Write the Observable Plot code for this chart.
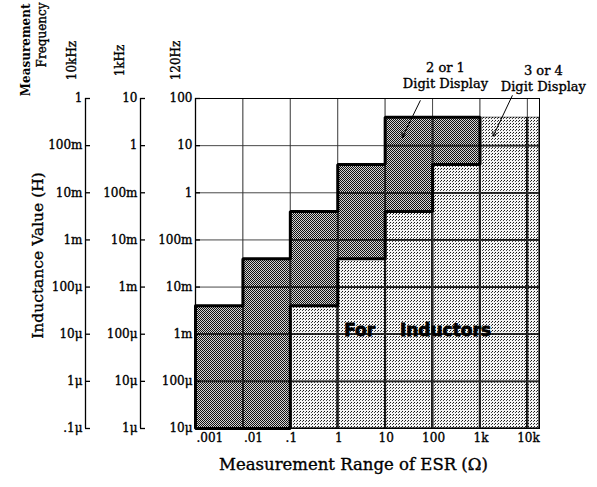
<!DOCTYPE html>
<html>
<head>
<meta charset="utf-8">
<script src="https://cdn.jsdelivr.net/npm/d3@7"></script>
<script src="https://cdn.jsdelivr.net/npm/@observablehq/plot@0.6"></script>
<style>
  html, body { margin: 0; padding: 0; background: #fff; }
  #chart svg { display: block; }
</style>
</head>
<body>
<div id="chart"></div>
<script>
// ---------- DATA ----------
// ESR decade columns (ohms)
const esrLow  = [0.001, 0.01, 0.1, 1, 10, 100, 1000, 10000];
const esrHigh = [0.01, 0.1, 1, 10, 100, 1000, 10000, 18000];
// Upper limit of the "2 or 1 digit display" region per column (H, 120 Hz scale)
const twoDigitTop  = [4e-3, 4e-2, 0.4, 4, 40, 40, null, null];
// Upper limit of the "3 or 4 digit display" region per column (H, 120 Hz scale)
const fourDigitTop = [null, null, 4e-3, 4e-2, 0.4, 4, 40, 40];

// Inductance decades (H, 120 Hz scale) and the labels on each frequency axis
const yTickValues = [100, 10, 1, 0.1, 0.01, 1e-3, 1e-4, 1e-5];
const labels10kHz = ["1", "100m", "10m", "1m", "100\u03bc", "10\u03bc", "1\u03bc", ".1\u03bc"];
const labels1kHz  = ["10", "1", "100m", "10m", "1m", "100\u03bc", "10\u03bc", "1\u03bc"];
const labels120Hz = ["100", "10", "1", "100m", "10m", "1m", "100\u03bc", "10\u03bc"];
const freqNames   = ["10kHz", "1kHz", "120Hz"];

// ESR ticks
const xTickValues = [0.001, 0.01, 0.1, 1, 10, 100, 1000, 10000];
const xTickLabels = [".001", ".01", ".1", "1", "10", "100", "1k", "10k"];

const annotationTexts = ["2 or 1\nDigit Display", "3 or 4\nDigit Display"];
const insideLabel = ["For", "Inductors"];

// ---------- LAYOUT ----------
const W = 597, H = 487;
const mL = 195, mR = 58, mT = 98, mB = 59;
const frameW = W - mL - mR;
const xMin = 0.001, xMax = 18000, yMin = 1e-5, yMax = 100;
const axisOffsets = [-110, -55, 0];
const freqLabelDx = [-18, -25, -24];
const serif = "DejaVu Serif";

// annotation placement (data space)
const notePos = [{x: 187, y: 165}, {x: 21700, y: 142}];
const arrowPos = [
  {x1: 55, y1: 90, x2: 23, y2: 15},
  {x1: 4800, y1: 115, x2: 1900, y2: 16}
];
const insidePos = [{x: 2.9, y: 1.2e-3}, {x: 187, y: 1.2e-3}];

// ---------- DERIVED TABLES ----------
const cols = esrLow.map((lo, i) => ({lo, hi: esrHigh[i], two: twoDigitTop[i], four: fourDigitTop[i]}));
const darkCells = cols.filter(c => c.two != null).map(c => ({x1: c.lo, x2: c.hi, y1: c.four ?? yMin, y2: c.two}));
const lightCells = cols.filter(c => c.four != null).map(c => ({x1: c.lo, x2: c.hi, y1: yMin, y2: c.four}));
const whiteCells = cols.map(c => ({x1: c.lo, x2: c.hi, y1: Math.max(c.two ?? 0, c.four ?? 0), y2: yMax}));
const darkCols = cols.filter(c => c.two != null);
const upper = darkCols.flatMap(c => [[c.lo, c.two], [c.hi, c.two]]);
const lower = darkCols.slice().reverse().flatMap(c => [[c.hi, c.four ?? yMin], [c.lo, c.four ?? yMin]]);
const outline = [...upper, ...lower, upper[0]];
const xGrid = xTickValues.slice(1);
const yGrid = yTickValues.slice(1, -1);
const axisLabels = [labels10kHz, labels1kHz, labels120Hz];

const heavy = {fill: "#000", stroke: "#000", strokeWidth: 0.35};

const leftAxes = axisOffsets.flatMap((off, k) => [
  Plot.ruleX([xMin], {dx: off, stroke: "#000", strokeWidth: 1.3}),
  Plot.ruleY(yTickValues, {y: d => d, dx: off, insetRight: frameW - 5, stroke: "#000", strokeWidth: 1.3}),
  Plot.text(axisLabels[k], {y: (d, i) => yTickValues[i], frameAnchor: "left", textAnchor: "end", dx: off - 3, fontSize: 12, fontFamily: serif, ...heavy}),
  Plot.text([freqNames[k]], {frameAnchor: "top-left", dx: off + freqLabelDx[k], dy: -38, rotate: -90, textAnchor: "middle", fontSize: 12, fontFamily: serif, ...heavy})
]);

const svg = Plot.plot({
  width: W, height: H,
  marginLeft: mL, marginRight: mR, marginTop: mT, marginBottom: mB,
  x: {type: "log", domain: [xMin, xMax], axis: null},
  y: {type: "log", domain: [yMin, yMax], axis: null},
  style: {fontFamily: serif, fontSize: "12px", background: "#fff", color: "#000"},
  marks: [
    Plot.rect(lightCells, {x1: "x1", x2: "x2", y1: "y1", y2: "y2", fill: "url(#lightPat)", stroke: "#000", strokeWidth: 1.2}),
    Plot.rect(darkCells, {x1: "x1", x2: "x2", y1: "y1", y2: "y2", fill: "url(#darkPat)"}),
    Plot.ruleX(xGrid, {stroke: "#000", strokeWidth: 1.8}),
    Plot.ruleY(yGrid, {stroke: "#000", strokeWidth: 1.8}),
    Plot.rect(whiteCells, {x1: "x1", x2: "x2", y1: "y1", y2: "y2", fill: "#fff"}),
    Plot.ruleX(xGrid, {stroke: "#333", strokeWidth: 0.9}),
    Plot.ruleY(yGrid, {stroke: "#333", strokeWidth: 0.9}),
    Plot.frame({stroke: "#000", strokeWidth: 1}),
    Plot.line(outline, {x: d => d[0], y: d => d[1], stroke: "#000", strokeWidth: 3, strokeLinejoin: "miter"}),
    ...leftAxes,
    Plot.text(xTickLabels.slice(0, 2), {x: (d, i) => xTickValues[i], frameAnchor: "bottom", dy: 13, textAnchor: "start", dx: 1, fontSize: 12, ...heavy}),
    Plot.text(xTickLabels.slice(2), {x: (d, i) => xTickValues[i + 2], frameAnchor: "bottom", dy: 13, textAnchor: "middle", dx: 1, fontSize: 12, ...heavy}),
    Plot.text(["Measurement Range of ESR (\u03a9)"], {frameAnchor: "bottom", textAnchor: "middle", dx: -14, dy: 41, fontSize: 16.5, ...heavy}),
    Plot.text(["Inductance Value (H)"], {frameAnchor: "left", textAnchor: "middle", dx: -157, dy: -8, rotate: -90, fontSize: 15.5, ...heavy}),
    Plot.text(["Measurement"], {frameAnchor: "top-left", dx: -174, dy: -95, rotate: -90, textAnchor: "end", fontWeight: "bold", fontSize: 12, fill: "#000"}),
    Plot.text(["Frequency"], {frameAnchor: "top-left", dx: -158, dy: -96, rotate: -90, textAnchor: "end", fontSize: 12, ...heavy}),
    Plot.text(annotationTexts, {x: (d, i) => notePos[i].x, y: (d, i) => notePos[i].y, lineAnchor: "bottom", textAnchor: "middle", fontSize: 13, lineHeight: 1.25, ...heavy}),
    Plot.arrow(arrowPos, {x1: "x1", y1: "y1", x2: "x2", y2: "y2", stroke: "#000", strokeWidth: 1, headLength: 7}),
    Plot.text(insideLabel, {x: (d, i) => insidePos[i].x, y: (d, i) => insidePos[i].y, textAnchor: "middle", fontFamily: "DejaVu Sans", fontWeight: "bold", fontSize: 17, fill: "#000", stroke: "#000", strokeWidth: 0.8})
  ]
});

// hatch / stipple patterns
const NS = "http://www.w3.org/2000/svg";
function el(tag, attrs) { const e = document.createElementNS(NS, tag); for (const k in attrs) e.setAttribute(k, attrs[k]); return e; }
const defs = el("defs", {});
const dark = el("pattern", {id: "darkPat", width: 2, height: 2, patternUnits: "userSpaceOnUse"});
dark.appendChild(el("rect", {width: 2, height: 2, fill: "#d4d4d4"}));
dark.appendChild(el("rect", {x: 0, y: 0, width: 1, height: 1, fill: "#111"}));
dark.appendChild(el("rect", {x: 1, y: 1, width: 1, height: 1, fill: "#111"}));
const light = el("pattern", {id: "lightPat", width: 3, height: 3, patternUnits: "userSpaceOnUse"});
light.appendChild(el("rect", {width: 3, height: 3, fill: "#f4f4f4"}));
light.appendChild(el("rect", {x: 0, y: 0, width: 1, height: 1, fill: "#111"}));
light.appendChild(el("rect", {x: 2, y: 1, width: 1, height: 1, fill: "#444"}));
defs.appendChild(dark); defs.appendChild(light);
svg.insertBefore(defs, svg.firstChild);
document.getElementById("chart").appendChild(svg);
</script>
</body>
</html>
